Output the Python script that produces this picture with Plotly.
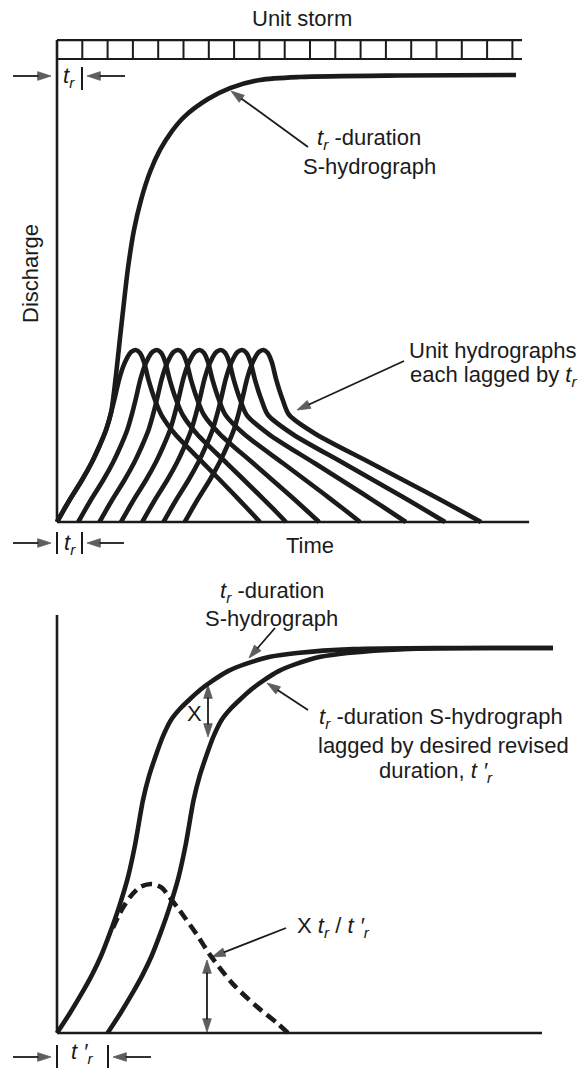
import plotly.graph_objects as go

W, H = 582, 1068
INK = "#1b1b1b"
FONT = "Liberation Sans, Arial, sans-serif"

# ---- time in units of t_r (one unit-storm block) ----
storm_blocks = 18          # complete rainfall blocks drawn
storm_end = 18.38          # the bar runs on past the last block (open end)

# ---- top panel: discharge in units of the unit-hydrograph peak ----
uh_start = [0.0, 0.84, 1.68, 2.53, 3.37, 4.21, 5.05]
uh_end = [8.02, 9.05, 10.36, 11.98, 13.79, 15.34, 16.76]

# unit hydrograph ordinates: rising limb, peak and steep fall (time since its start)
uh_rise_t = [0.0, 0.474, 0.988, 1.383, 1.66, 1.937, 2.134, 2.292, 2.451, 2.609, 2.767,
             2.925, 3.103, 3.281, 3.439, 3.617, 3.874, 4.13]
uh_rise_q = [0.0, 0.122, 0.244, 0.349, 0.436, 0.535, 0.634, 0.727, 0.826, 0.901, 0.953,
             0.988, 1.0, 0.983, 0.93, 0.826, 0.709, 0.622]
# recession after the knee, as a fraction of the remaining base time
rec_frac = [0.0, 0.14, 0.43, 0.72, 0.87, 1.0]
rec_q = [0.622, 0.51, 0.34, 0.17, 0.08, 0.0]

# t_r-duration S-hydrograph (top)
s_top_t = [0.0, 0.474, 0.988, 1.383, 1.66, 1.937, 2.134, 2.332, 2.49, 2.648, 2.806,
           3.043, 3.32, 3.676, 4.071, 4.545, 5.059, 5.968, 6.838, 8.024, 9.605,
           13.557, 18.142]
s_top_q = [0.0, 0.122, 0.244, 0.349, 0.436, 0.535, 0.634, 0.855, 1.07, 1.279, 1.477,
           1.698, 1.872, 2.035, 2.163, 2.273, 2.36, 2.459, 2.523, 2.57, 2.587,
           2.596, 2.599]

# ---- bottom panel: discharge in units of the S-hydrograph plateau ----
s_bot_t = [0.0, 0.514, 0.988, 1.383, 1.739, 2.095, 2.451, 2.806, 3.083, 3.399, 3.636,
           3.913, 4.19, 4.506, 4.862, 5.217, 5.652, 6.126, 6.759, 7.431, 8.419,
           9.486, 11.7, 15.534, 19.605]
s_bot_q = [0.0, 0.052, 0.104, 0.151, 0.2, 0.26, 0.327, 0.405, 0.488, 0.605, 0.667,
           0.722, 0.771, 0.813, 0.842, 0.865, 0.891, 0.914, 0.94, 0.958, 0.977,
           0.987, 0.997, 1.0, 1.0]
lag_revised = 2.0          # t'_r

# derived unit hydrograph of duration t'_r (dashed)
uh_new_t = [2.213, 2.49, 2.885, 3.281, 3.755, 4.15, 4.387, 4.862, 5.534, 6.047,
            6.957, 7.905, 8.696, 9.13]
uh_new_q = [0.273, 0.312, 0.353, 0.379, 0.387, 0.377, 0.358, 0.317, 0.255, 0.203,
            0.127, 0.068, 0.026, 0.0]

# ---- axis geometry (pixels per unit, origins) ----
X0, XS = 57, 25.3
TOP_Y0, TOP_YS = 522, 172
BOT_Y0, BOT_YS = 1033, 385


def P(px, py):
    return px / W, 1 - py / H


fig = go.Figure()
line_kw = dict(color=INK, width=4.6, shape="spline", smoothing=0.8)

for s, e in zip(uh_start, uh_end):
    knee = s + uh_rise_t[-1]
    t = [s + v for v in uh_rise_t] + [knee + f * (e - knee) for f in rec_frac[1:]]
    q = uh_rise_q + rec_q[1:]
    fig.add_trace(go.Scatter(x=t, y=q, mode="lines", line=line_kw, xaxis="x", yaxis="y",
                             hoverinfo="skip"))

fig.add_trace(go.Scatter(x=s_top_t, y=s_top_q, mode="lines", line=line_kw,
                         xaxis="x", yaxis="y", hoverinfo="skip"))

fig.add_trace(go.Scatter(x=s_bot_t, y=s_bot_q, mode="lines", line=line_kw,
                         xaxis="x", yaxis="y2", hoverinfo="skip"))
s_end = s_bot_t[-1]
lag_t = [t + lag_revised for t in s_bot_t if t + lag_revised < s_end] + [s_end]
lag_q = [q for t, q in zip(s_bot_t, s_bot_q) if t + lag_revised < s_end] + [s_bot_q[-1]]
fig.add_trace(go.Scatter(x=lag_t, y=lag_q, mode="lines", line=line_kw,
                         xaxis="x", yaxis="y2", hoverinfo="skip"))
fig.add_trace(go.Scatter(x=uh_new_t, y=uh_new_q, mode="lines",
                         line=dict(color=INK, width=4.6, shape="spline", smoothing=0.8,
                                   dash="11px,6px"),
                         xaxis="x", yaxis="y2", hoverinfo="skip"))

shapes = []


def seg(x0, y0, x1, y1, yref, width=2.6):
    shapes.append(dict(type="line", x0=x0, y0=y0, x1=x1, y1=y1, xref="x", yref=yref,
                       line=dict(color=INK, width=width)))


def pseg(p0, p1, width=2.0):
    a, b = P(*p0), P(*p1)
    shapes.append(dict(type="line", x0=a[0], y0=a[1], x1=b[0], y1=b[1], xref="paper",
                       yref="paper", line=dict(color=INK, width=width)))


# unit storm bar
bar_lo, bar_hi = 2.692, 2.802
seg(0, bar_hi, storm_end, bar_hi, "y", 2.2)
seg(0, bar_lo, storm_end, bar_lo, "y", 2.2)
for k in range(storm_blocks + 1):
    seg(k, bar_lo, k, bar_hi, "y", 2.0)

# axes
seg(0, 0, 0, bar_hi, "y")
seg(0, 0, 18.66, 0, "y")
seg(0, 0, 0, 1.086, "y2")
seg(0, 0, 19.17, 0, "y2")

# duration markers
pseg((82, 67), (82, 90))
pseg((57, 532), (57, 554))
pseg((82, 532), (82, 554))
pseg((57, 1045), (57, 1068))
pseg((108, 1045), (108, 1068))


def arrow(tail, head, width=1.8):
    # leader line on a pixel-space overlay axis, arrowhead marker at the head
    fig.add_trace(go.Scatter(
        x=[tail[0], head[0]], y=[tail[1], head[1]], mode="lines+markers",
        xaxis="x3", yaxis="y3", hoverinfo="skip",
        line=dict(color=INK, width=width),
        marker=dict(symbol="arrow", size=[0, 14], angleref="previous", color=INK,
                    line=dict(width=0.8, color=INK)),
    ))


ann = []


def label(px, py, text, size=22, **kw):
    x, y = P(px, py)
    d = dict(x=x, y=y, xref="paper", yref="paper", text=text, showarrow=False,
             font=dict(family=FONT, size=size, color=INK), xanchor="center",
             yanchor="middle", borderpad=0)
    d.update(kw)
    ann.append(d)


TR = "<i>t<sub>r</sub></i>"
TRP = "<i>t</i> <i>′<sub>r</sub></i>"

label(302, 18, "Unit storm")
label(30, 274, "Discharge", textangle=-90)
label(310, 545, "Time")

# t_r markers
arrow((13, 76), (51, 76))
arrow((125, 76), (87, 76))
label(69, 77, TR)
arrow((13, 543), (51, 543))
arrow((124, 543), (87, 543))
label(70, 544, TR)
arrow((13, 1057), (51, 1057))
arrow((151, 1057), (113, 1057))
label(82, 1053, TRP)

# top panel notes
label(369, 139, TR + " -duration")
label(369, 166, "S-hydrograph")
arrow((308, 147), (231, 91))
label(493, 350, "Unit hydrographs")
label(493, 376, "each lagged by " + TR)
arrow((404, 361), (297, 410))

# bottom panel notes
label(272, 592, TR + " -duration")
label(271, 618, "S-hydrograph")
arrow((275, 628), (249, 658))
label(441, 718, TR + " -duration S-hydrograph")
label(443, 745, "lagged by desired revised")
label(436, 772, "duration, " + TRP)
arrow((308, 710), (267, 683))
label(195, 713, "X")
arrow((208, 711), (208, 685))
arrow((208, 711), (208, 737))
label(333, 927, "X " + TR + " / " + TRP)
arrow((286, 928), (212, 957))
arrow((207, 995), (207, 960))
arrow((207, 995), (207, 1032))

hidden = dict(visible=False, showgrid=False, zeroline=False, fixedrange=True)
fig.update_layout(
    width=W, height=H, margin=dict(l=0, r=0, t=0, b=0),
    paper_bgcolor="white", plot_bgcolor="white", showlegend=False,
    xaxis=dict(domain=[0, 1], range=[-X0 / XS, (W - X0) / XS], **hidden),
    yaxis=dict(domain=[0, 1], range=[(TOP_Y0 - H) / TOP_YS, TOP_Y0 / TOP_YS], **hidden),
    yaxis2=dict(domain=[0, 1], overlaying="y", anchor="x",
                range=[(BOT_Y0 - H) / BOT_YS, BOT_Y0 / BOT_YS], **hidden),
    xaxis3=dict(domain=[0, 1], overlaying="x", anchor="y3", range=[0, W], **hidden),
    yaxis3=dict(domain=[0, 1], overlaying="y", anchor="x3", range=[H, 0], **hidden),
    shapes=shapes, annotations=ann,
)

fig.write_html("out.html", config={"displayModeBar": False, "staticPlot": True})
